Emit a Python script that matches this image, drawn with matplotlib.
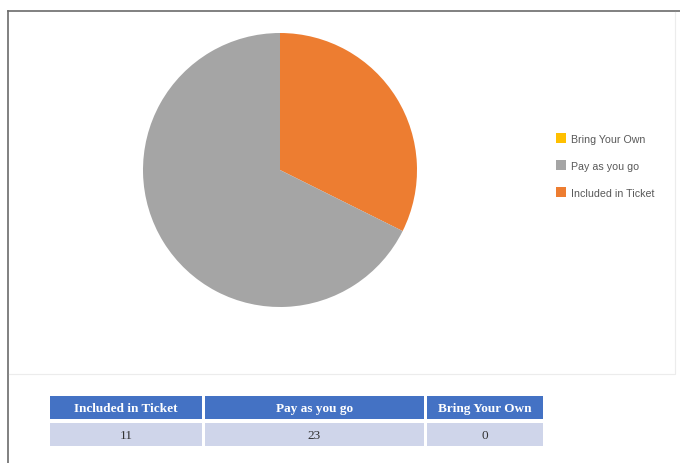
import matplotlib.pyplot as plt
from matplotlib.patches import Rectangle
from matplotlib.lines import Line2D

categories = ["Included in Ticket", "Pay as you go", "Bring Your Own"]
counts = [11, 23, 0]
colors = ["#ED7D31", "#A5A5A5", "#FFC000"]
legend_order = ["Bring Your Own", "Pay as you go", "Included in Ticket"]

W, H = 680, 464
fig = plt.figure(figsize=(W / 100, H / 100), dpi=100)

# background layer in pixel coordinates
bg = fig.add_axes([0, 0, 1, 1])
bg.set_xlim(0, W)
bg.set_ylim(H, 0)
bg.axis("off")

# outer frame (top and left edge)
bg.plot([8, W], [12, 12], color="#6b6b6b", linewidth=1.2)
bg.plot([8, 8], [12, H], color="#6b6b6b", linewidth=1.2)
# faint chart panel border
bg.plot([9, 675, 675], [375, 375, 13], color="#ececec", linewidth=0.8)

# pie
cx, cy, r = 280, 171, 137
pie_ax = fig.add_axes([(cx - r) / W, (H - cy - r) / H, 2 * r / W, 2 * r / H])
pie_ax.pie(counts, colors=colors, startangle=90, counterclock=False,
           wedgeprops=dict(linewidth=0))
pie_ax.set_xlim(-1, 1)
pie_ax.set_ylim(-1, 1)
pie_ax.set_aspect("equal")
pie_ax.axis("off")

# legend
color_of = dict(zip(categories, colors))
handles = [Line2D([], [], marker="s", linestyle="none", markersize=6.5,
                  markerfacecolor=color_of[c], markeredgewidth=0) for c in legend_order]
fig.legend(handles, legend_order, loc="upper left",
           bbox_to_anchor=(546 / W, 1 - 125 / H), frameon=False,
           prop=dict(family="Liberation Sans", size=7.7), labelcolor="#595959",
           handletextpad=0.45, labelspacing=1.6, handlelength=1.0)

# table below chart
col_edges = [(50, 202), (205, 424), (427, 543)]
header_y, row_y, row_h = 397, 424, 23
for (x0, x1), name, val in zip(col_edges, categories, counts):
    bg.add_patch(Rectangle((x0, header_y), x1 - x0, row_h, facecolor="#4472C4", edgecolor="none"))
    bg.add_patch(Rectangle((x0, row_y), x1 - x0, row_h, facecolor="#CFD5EA", edgecolor="none"))
    bg.text((x0 + x1) / 2, header_y + row_h / 2 + 0.5, name, ha="center", va="center",
            color="white", fontweight="bold", fontsize=9.5, family="Liberation Serif")
    bg.text((x0 + x1) / 2, row_y + row_h / 2 + 0.5, str(val), ha="center", va="center",
            color="#333333", fontsize=9.5, family="Liberation Serif")

fig.savefig("out.png", dpi=100)
